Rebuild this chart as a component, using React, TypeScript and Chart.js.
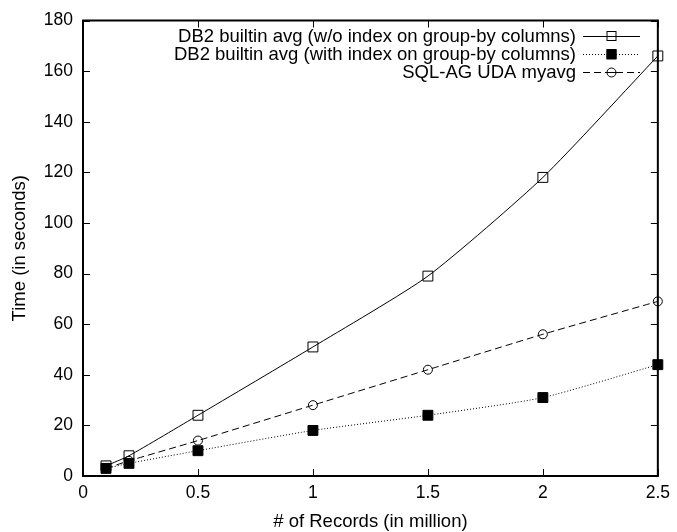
import React, { useEffect, useRef } from 'react';
import { Chart, registerables } from 'chart.js';

Chart.register(...registerables);

const xValues = [0.1, 0.2, 0.5, 1, 1.5, 2, 2.5];
const db2NoIndex = [4, 8, 24, 51, 79, 118, 166];
const db2WithIndex = [3, 5, 10, 18, 24, 31, 44];
const sqlAgUda = [3, 6, 14, 28, 42, 56, 69];
const seriesLabels = [
  'DB2 builtin avg (w/o index on group-by columns)',
  'DB2 builtin avg (with index on group-by columns)',
  'SQL-AG UDA myavg',
];
const xTicks = [0, 0.5, 1, 1.5, 2, 2.5];
const yTicks = [0, 20, 40, 60, 80, 100, 120, 140, 160, 180];
const xTitle = '# of Records (in million)';
const yTitle = 'Time (in seconds)';

const FONT = '"Liberation Sans", Arial, Helvetica, sans-serif';
const FS = 18.5;
const TFS = 17.5;

function toPoints(ys: number[]) {
  return xValues.map((x, i) => ({ x, y: ys[i] }));
}

const framePlugin = {
  id: 'gnuplotFrame',
  afterDraw(chart: any) {
    const { ctx, chartArea, scales } = chart;
    const { left, right, top, bottom } = chartArea;
    ctx.save();
    ctx.strokeStyle = '#000';
    ctx.lineWidth = 2;
    ctx.strokeRect(left, top, right - left, bottom - top);
    ctx.lineWidth = 1;
    const tl = 7;
    ctx.beginPath();
    xTicks.forEach((v) => {
      const x = Math.round(scales.x.getPixelForValue(v)) + 0.5;
      ctx.moveTo(x, bottom);
      ctx.lineTo(x, bottom - tl);
      ctx.moveTo(x, top);
      ctx.lineTo(x, top + tl);
    });
    yTicks.forEach((v) => {
      const y = Math.round(scales.y.getPixelForValue(v)) + 0.5;
      ctx.moveTo(left, y);
      ctx.lineTo(left + tl, y);
      ctx.moveTo(right, y);
      ctx.lineTo(right - tl, y);
    });
    ctx.stroke();

    // axis titles
    ctx.fillStyle = '#000';
    ctx.font = `${FS}px ${FONT}`;
    ctx.textAlign = 'center';
    ctx.textBaseline = 'middle';
    ctx.fillText(xTitle, (left + right) / 2, 522);
    ctx.save();
    ctx.translate(20, (top + bottom) / 2);
    ctx.rotate(-Math.PI / 2);
    ctx.fillText(yTitle, 0, 0);
    ctx.restore();

    // legend
    const rows = [36, 54, 72];
    const textRight = 576;
    const lx0 = 583;
    const lx1 = 640;
    const mx = (lx0 + lx1) / 2;
    chart.data.datasets.forEach((ds: any, i: number) => {
      const y = rows[i];
      ctx.fillStyle = '#000';
      ctx.textAlign = 'right';
      ctx.textBaseline = 'middle';
      ctx.fillText(seriesLabels[i], textRight, y + 1);
      ctx.save();
      ctx.strokeStyle = '#000';
      ctx.lineWidth = 1;
      ctx.setLineDash(ds.borderDash || []);
      ctx.beginPath();
      ctx.moveTo(lx0, y + 0.5);
      ctx.lineTo(lx1, y + 0.5);
      ctx.stroke();
      ctx.setLineDash([]);
      ctx.restore();
      ctx.save();
      if (ds.pointStyle === 'rect') {
        const s = 5;
        ctx.fillStyle = ds.pointBackgroundColor;
        ctx.fillRect(mx - s, y - s + 0.5, 2 * s, 2 * s);
        ctx.strokeStyle = '#000';
        ctx.strokeRect(mx - s + 0.5, y - s + 0.5, 2 * s - 1, 2 * s - 1);
      } else {
        ctx.fillStyle = '#fff';
        ctx.strokeStyle = '#000';
        ctx.beginPath();
        ctx.arc(mx, y + 0.5, 4.5, 0, Math.PI * 2);
        ctx.fill();
        ctx.stroke();
        ctx.beginPath();
        ctx.moveTo(mx - 4.5, y + 0.5);
        ctx.lineTo(mx + 4.5, y + 0.5);
        ctx.stroke();
      }
      ctx.restore();
    });
    ctx.restore();
  },
};

export default function App() {
  const ref = useRef<HTMLCanvasElement>(null);
  useEffect(() => {
    if (!ref.current) return;
    const chart = new Chart(ref.current, {
      type: 'line',
      data: {
        datasets: [
          {
            label: seriesLabels[0],
            data: toPoints(db2NoIndex),
            borderColor: '#000',
            borderWidth: 1,
            pointStyle: 'rect',
            pointRadius: 7,
            pointBorderWidth: 1,
            pointBackgroundColor: 'rgba(255,255,255,0)',
            pointBorderColor: '#000',
            tension: 0.2,
            clip: false,
          },
          {
            label: seriesLabels[1],
            data: toPoints(db2WithIndex),
            borderColor: '#000',
            borderWidth: 1,
            borderDash: [1, 2],
            pointStyle: 'rect',
            pointRadius: 7,
            pointBorderWidth: 1,
            pointBackgroundColor: '#000',
            pointBorderColor: '#000',
            tension: 0.2,
            clip: false,
          },
          {
            label: seriesLabels[2],
            data: toPoints(sqlAgUda),
            borderColor: '#000',
            borderWidth: 1,
            borderDash: [7, 4],
            pointStyle: 'circle',
            pointRadius: 4.5,
            pointBorderWidth: 1,
            pointBackgroundColor: 'rgba(255,255,255,0)',
            pointBorderColor: '#000',
            tension: 0.2,
            clip: false,
          },
        ],
      } as any,
      options: {
        animation: false,
        responsive: true,
        maintainAspectRatio: false,
        layout: { padding: { top: 16, right: 14, left: 0, bottom: 0 } },
        plugins: {
          legend: { display: false },
          tooltip: { enabled: false },
        },
        scales: {
          x: {
            type: 'linear',
            min: 0,
            max: 2.5,
            afterBuildTicks: (scale: any) => {
              scale.ticks = xTicks.map((v) => ({ value: v }));
            },
            afterFit: (scale: any) => {
              scale.height = 56;
            },
            grid: { display: false, drawTicks: false },
            border: { display: false },
            ticks: {
              color: '#000',
              font: { family: FONT, size: TFS },
              padding: 7,
              maxRotation: 0,
              autoSkip: false,
              callback: (v: any) => String(v),
            },
          },
          y: {
            type: 'linear',
            min: 0,
            max: 180,
            afterBuildTicks: (scale: any) => {
              scale.ticks = yTicks.map((v) => ({ value: v }));
            },
            afterFit: (scale: any) => {
              scale.width = 83;
            },
            grid: { display: false, drawTicks: false },
            border: { display: false },
            ticks: {
              color: '#000',
              font: { family: FONT, size: TFS },
              padding: 10,
              autoSkip: false,
              callback: (v: any) => String(v),
            },
          },
        },
      } as any,
      plugins: [framePlugin],
    });
    return () => chart.destroy();
  }, []);
  return (
    <div style={{ position: 'absolute', left: 0, top: 0, width: 677, height: 532 }}>
      <canvas ref={ref} />
    </div>
  );
}
